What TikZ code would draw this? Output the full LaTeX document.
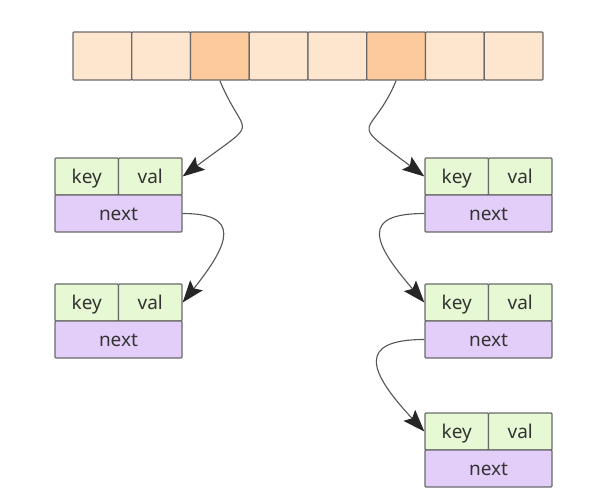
\documentclass[tikz,border=0pt]{standalone}
\usepackage{fontspec}
\setmainfont{Noto Sans}
\usetikzlibrary{arrows.meta}

\definecolor{slotlight}{HTML}{FDE6CD}
\definecolor{slothot}{HTML}{FCCA9B}
\definecolor{kvgreen}{HTML}{E6F9D4}
\definecolor{nextpurple}{HTML}{E2CEF9}
\definecolor{edgegray}{HTML}{6A6A6A}
\definecolor{wiregray}{HTML}{555555}
\definecolor{tipgray}{HTML}{262626}
\definecolor{inkgray}{HTML}{333333}

\tikzset{
  box/.style={draw=edgegray, line width=1.3pt, rounded corners=1pt, inner sep=0pt,
              font=\fontsize{19}{21}\selectfont, text=inkgray,
              text height=15pt, text depth=2pt},
  slot/.style={box, minimum width=58.75pt, minimum height=48pt},
  kv/.style={box, fill=kvgreen, minimum width=63.5pt, minimum height=37pt},
  nxt/.style={box, fill=nextpurple, minimum width=127pt, minimum height=37pt},
  link/.style={draw=wiregray, line width=1.1pt,
               -{Stealth[length=22pt,width=16pt,inset=4pt,color=tipgray]}},
}

\begin{document}
\begin{tikzpicture}[x=1pt,y=1pt]
  \useasboundingbox[fill=white] (0,0) rectangle (607,-501);

  % bucket array
  \foreach \i/\f in {1/slotlight,2/slotlight,3/slothot,4/slotlight,
                     5/slotlight,6/slothot,7/slotlight,8/slotlight}
    \node[slot, fill=\f] (c\i) at ({73+58.75*(\i-0.5)}, -56) {};

  % left chain
  \node[kv]  (k1) at (86.75,-176.5) {key};
  \node[kv]  (v1) at (150.25,-176.5) {val};
  \node[nxt] (n1) at (118.5,-213.5) {next};

  \node[kv]  (k2) at (86.75,-302.5) {key};
  \node[kv]  (v2) at (150.25,-302.5) {val};
  \node[nxt] (n2) at (118.5,-339.5) {next};

  % right chain
  \node[kv]  (k4) at (456.75,-176.5) {key};
  \node[kv]  (v4) at (520.25,-176.5) {val};
  \node[nxt] (n4) at (488.5,-213.5) {next};

  \node[kv]  (k5) at (456.75,-302.5) {key};
  \node[kv]  (v5) at (520.25,-302.5) {val};
  \node[nxt] (n5) at (488.5,-339.5) {next};

  \node[kv]  (k6) at (456.75,-431.5) {key};
  \node[kv]  (v6) at (520.25,-431.5) {val};
  \node[nxt] (n6) at (488.5,-468.5) {next};

  % pointers
  \draw[link] (c3.south) .. controls +(25,-60) and +(80,60) .. (v1.east);
  \draw[link] (c6.south) .. controls +(-25,-60) and +(-80,60) .. (k4.west);
  \draw[link] (n1.east) .. controls +(58,0) and +(48,60) .. (v2.east);
  \draw[link] (n4.west) .. controls +(-64,0) and +(-52,60) .. (k5.west);
  \draw[link] (n5.west) .. controls +(-68,0) and +(-56,60) .. (k6.west);
\end{tikzpicture}
\end{document}
